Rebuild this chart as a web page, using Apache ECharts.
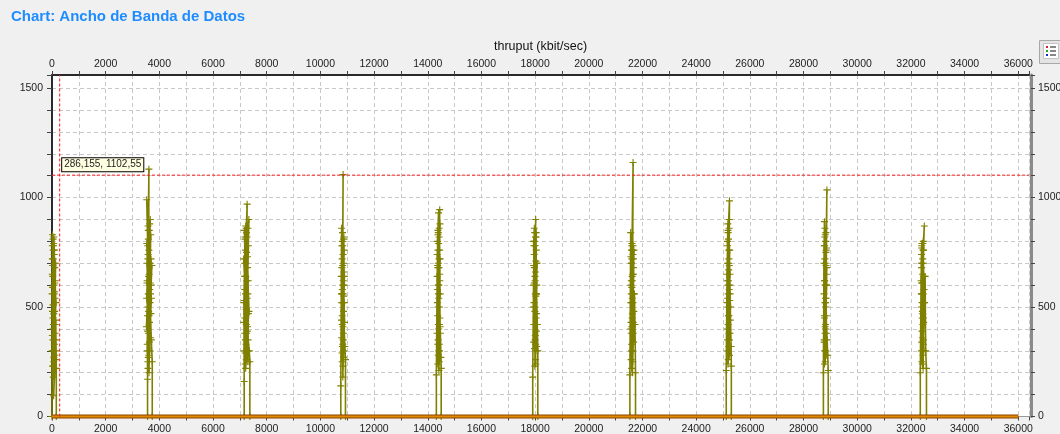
<!DOCTYPE html>
<html><head><meta charset="utf-8">
<script src="https://cdn.jsdelivr.net/npm/echarts@6/dist/echarts.min.js"></script>
<style>html,body{margin:0;padding:0;background:#f0f0f0}#c{width:1060px;height:434px}</style>
</head><body><div id="c"></div>
<script>
const titleText = 'Chart: Ancho de Banda de Datos';
const xAxisName = 'thruput (kbit/sec)';
const xLabelStep = 2000;
const yLabelStep = 500;
const cursorX = 286.155;
const cursorY = 1102.55;
const cursorLabel = '286,155, 1102,55';

const burst1 = [[0,0],[5,560],[20,830],[12,780],[40,810],[28,640],[60,790],[18,480],[48,720],[75,600],[35,350],[90,760],[55,420],[25,230],[100,680],[70,820],[42,300],[110,540],[65,250],[85,700],[30,400],[120,620],[50,180],[95,480],[15,720],[130,350],[80,560],[10,300],[45,760],[115,420],[22,590],[70,270],[135,700],[38,510],[88,330],[8,650],[58,780],[125,260],[33,450],[102,610],[14,370],[78,740],[145,520],[52,230],[92,570],[26,690],[118,380],[66,470],[140,300],[60,95],[105,280],[140,440],[160,220],[160,0]];
const burst2 = [[3560,0],[3560,170],[3545,620],[3590,850],[3530,990],[3575,720],[3610,1130],[3600,480],[3550,300],[3640,880],[3585,560],[3520,410],[3660,900],[3620,650],[3570,250],[3680,830],[3595,380],[3540,700],[3650,520],[3615,200],[3565,780],[3700,600],[3630,340],[3580,870],[3555,460],[3690,720],[3605,280],[3670,560],[3590,810],[3635,430],[3720,690],[3575,220],[3660,610],[3525,540],[3610,760],[3548,330],[3685,470],[3598,640],[3532,790],[3645,300],[3572,500],[3625,850],[3560,390],[3705,540],[3588,270],[3655,700],[3538,610],[3618,460],[3675,360],[3582,740],[3640,580],[3700,350],[3735,250],[3735,0]];
const burst3 = [[7160,0],[7160,160],[7150,520],[7190,820],[7220,870],[7175,640],[7270,970],[7240,420],[7200,290],[7300,860],[7210,560],[7180,380],[7250,750],[7335,900],[7230,330],[7280,680],[7195,810],[7260,470],[7215,220],[7310,620],[7245,840],[7185,450],[7290,300],[7225,700],[7270,540],[7320,780],[7205,350],[7255,620],[7140,720],[7232,490],[7168,850],[7285,410],[7212,760],[7158,300],[7295,560],[7238,260],[7178,580],[7265,820],[7145,430],[7222,640],[7305,350],[7188,700],[7248,380],[7170,530],[7282,730],[7198,240],[7315,470],[7300,250],[7235,860],[7340,480],[7275,390],[7350,300],[7372,250],[7372,0]];
const burst4 = [[10760,0],[10760,140],[10790,860],[10800,560],[10830,780],[10846,1105],[10820,320],[10780,640],[10860,810],[10810,460],[10840,230],[10870,700],[10795,520],[10855,380],[10825,840],[10880,600],[10805,290],[10845,740],[10815,420],[10890,520],[10835,180],[10865,660],[10800,780],[10850,350],[10875,820],[10785,440],[10838,600],[10808,720],[10868,300],[10792,360],[10828,520],[10882,760],[10812,250],[10852,620],[10798,680],[10842,410],[10895,640],[10818,800],[10862,480],[10788,560],[10832,330],[10872,550],[10820,580],[10860,270],[10830,690],[10900,430],[10845,560],[10910,320],[10934,260],[10934,0]];
const burst5 = [[14320,0],[14320,190],[14350,640],[14380,850],[14400,930],[14370,460],[14420,720],[14390,280],[14445,945],[14360,800],[14410,540],[14430,330],[14375,680],[14455,880],[14395,420],[14415,210],[14440,760],[14365,580],[14425,860],[14385,350],[14450,620],[14405,790],[14370,240],[14435,500],[14395,700],[14345,380],[14412,600],[14382,760],[14438,420],[14358,520],[14428,300],[14392,840],[14462,560],[14372,330],[14418,680],[14352,740],[14448,450],[14388,600],[14432,250],[14366,690],[14408,400],[14458,720],[14378,500],[14422,820],[14460,410],[14380,830],[14420,300],[14445,650],[14400,560],[14470,380],[14490,270],[14500,220],[14500,0]];
const burst6 = [[17910,0],[17910,180],[17940,600],[17970,860],[17950,420],[18000,780],[18020,900],[17980,310],[18010,660],[17960,520],[18040,840],[17990,230],[18030,710],[17975,800],[18050,470],[18005,370],[17945,690],[18025,550],[17985,840],[18060,600],[18015,260],[17965,740],[18045,390],[17935,500],[17995,640],[18028,300],[17955,780],[18038,560],[17978,420],[18012,820],[17948,340],[18058,700],[17988,500],[18022,240],[17968,610],[18042,760],[17998,350],[17942,800],[18032,450],[17972,680],[18052,320],[18008,560],[18000,620],[18035,820],[17990,480],[18070,700],[18020,330],[18055,560],[18080,420],[18100,300],[18100,0]];
const burst7 = [[21530,0],[21530,190],[21560,840],[21580,620],[21600,780],[21570,430],[21650,1160],[21620,300],[21590,700],[21640,520],[21610,790],[21575,260],[21660,680],[21600,410],[21630,760],[21585,560],[21670,340],[21615,640],[21595,220],[21645,740],[21625,470],[21580,700],[21655,380],[21565,520],[21622,620],[21592,330],[21648,780],[21572,600],[21612,450],[21668,560],[21588,760],[21638,250],[21558,400],[21605,720],[21678,480],[21598,300],[21632,650],[21568,730],[21652,430],[21618,540],[21582,380],[21662,720],[21605,590],[21680,760],[21635,300],[21610,520],[21665,650],[21625,200],[21700,560],[21720,420],[21740,200],[21740,0]];
const burst8 = [[25120,0],[25120,210],[25150,650],[25180,880],[25200,460],[25170,780],[25240,985],[25210,320],[25190,600],[25230,860],[25160,400],[25220,720],[25250,530],[25185,240],[25205,810],[25260,650],[25175,350],[25235,900],[25195,560],[25270,440],[25215,760],[25165,620],[25245,280],[25155,520],[25212,670],[25178,300],[25228,580],[25188,850],[25258,380],[25168,700],[25222,460],[25198,260],[25248,760],[25172,540],[25238,350],[25208,620],[25162,800],[25265,560],[25192,420],[25232,690],[25182,500],[25205,700],[25280,500],[25225,380],[25190,840],[25255,600],[25300,320],[25310,230],[25310,0]];
const burst9 = [[28740,0],[28740,200],[28760,700],[28780,890],[28800,520],[28770,340],[28820,800],[28790,620],[28810,250],[28840,760],[28775,460],[28830,840],[28800,380],[28850,650],[28785,780],[28815,540],[28870,1035],[28825,300],[28795,720],[28845,460],[28810,830],[28765,560],[28818,420],[28788,300],[28838,600],[28772,780],[28828,500],[28798,860],[28858,380],[28778,620],[28812,700],[28848,280],[28782,450],[28832,750],[28802,600],[28768,350],[28842,540],[28792,820],[28822,400],[28862,680],[28860,600],[28780,240],[28835,690],[28805,410],[28855,770],[28820,520],[28880,350],[28900,280],[28920,210],[28920,0]];
const burst10 = [[32350,0],[32350,200],[32380,620],[32400,780],[32420,450],[32390,300],[32440,720],[32410,560],[32460,800],[32430,240],[32400,680],[32480,520],[32415,390],[32450,760],[32500,870],[32425,610],[32470,330],[32440,470],[32395,740],[32490,580],[32455,220],[32385,500],[32435,650],[32405,340],[32465,700],[32392,560],[32445,420],[32412,790],[32478,300],[32398,610],[32428,480],[32472,760],[32408,250],[32458,560],[32388,700],[32438,360],[32482,640],[32418,520],[32448,280],[32402,770],[32468,450],[32420,700],[32475,430],[32445,790],[32510,520],[32465,350],[32530,640],[32550,300],[32580,220],[32580,0]];
const baseline = [[0,0],[36000,0]];
const cursorVertical = [[cursorX,0],[cursorX,1560]];
const cursorHorizontal = [[0,cursorY],[36400,cursorY]];

const bursts = [burst1,burst2,burst3,burst4,burst5,burst6,burst7,burst8,burst9,burst10];
const seriesData = [].concat(...bursts);

const FONT = '"Liberation Sans", Arial, sans-serif';
const plusSymbol = 'path://M0,4.2H10V5.8H0ZM4.2,0H5.8V10H4.2Z';
const labelStyle = {color:'#222', fontSize:10.5, fontFamily:FONT};
const xFmt = v => (v % xLabelStep === 0 && v <= 36000) ? String(v) : '';
const yFmt = v => (v % yLabelStep === 0) ? String(v) : '';

const chart = echarts.init(document.getElementById('c'), null, {renderer:'canvas'});
chart.setOption({
  animation:false,
  backgroundColor:'#f0f0f0',
  title:{text:titleText, left:11, top:9, padding:0,
    textStyle:{color:'#1e8cff', fontSize:15, fontWeight:'bold', fontFamily:FONT}},
  grid:{left:52, right:31, top:75, bottom:17.5, show:true, backgroundColor:'#ffffff', borderWidth:0,
    containLabel:false, outerBoundsMode:'none'},
  xAxis:[
    {type:'value', position:'bottom', min:0, max:36400, interval:1000,
     axisLine:{show:true, onZero:false, lineStyle:{color:'#9a9a9a', width:1}},
     axisTick:{show:true, length:4, lineStyle:{color:'#444'}},
     axisLabel:Object.assign({formatter:xFmt, margin:7}, labelStyle),
     splitLine:{show:true, lineStyle:{color:'#c8c8c8', type:[4,3], width:1}}},
    {type:'value', position:'top', min:0, max:36400, interval:1000,
     name:xAxisName, nameLocation:'middle', nameGap:22,
     nameTextStyle:{color:'#111', fontSize:12.5, fontFamily:FONT},
     axisLine:{show:true, onZero:false, lineStyle:{color:'#2a2a2a', width:2}},
     axisTick:{show:true, length:4, lineStyle:{color:'#444'}},
     axisLabel:Object.assign({formatter:xFmt, margin:5}, labelStyle),
     splitLine:{show:false}}
  ],
  yAxis:[
    {type:'value', position:'left', min:0, max:1560, interval:100,
     axisLine:{show:true, onZero:false, lineStyle:{color:'#2a2a2a', width:2}},
     axisTick:{show:true, length:5, lineStyle:{color:'#444'}},
     axisLabel:Object.assign({formatter:yFmt, margin:9}, labelStyle),
     splitLine:{show:true, lineStyle:{color:'#c8c8c8', type:[4,3], width:1}}},
    {type:'value', position:'right', min:0, max:1560, interval:100, offset:2,
     axisLine:{show:true, onZero:false, lineStyle:{color:'#8a8a8a', width:3}},
     axisTick:{show:true, length:4, lineStyle:{color:'#444'}},
     axisLabel:Object.assign({formatter:yFmt, margin:7}, labelStyle),
     splitLine:{show:false}}
  ],
  series:[
    {type:'line', name:'thruput', xAxisIndex:0, yAxisIndex:0, data:seriesData,
     symbol:plusSymbol, symbolSize:7, showAllSymbol:true,
     lineStyle:{color:'#808000', width:1.6},
     itemStyle:{color:'#808000', borderWidth:0}, z:3},
    {type:'line', name:'cursorV', xAxisIndex:0, yAxisIndex:0, data:cursorVertical,
     symbol:'none', lineStyle:{color:'#ff1a1a', width:1, type:[3,2]}, z:6},
    {type:'line', name:'cursorH', xAxisIndex:0, yAxisIndex:0, data:cursorHorizontal,
     symbol:'none', lineStyle:{color:'#ff1a1a', width:1, type:[3,2]}, z:6},
    {type:'line', name:'base', xAxisIndex:0, yAxisIndex:0, data:baseline, clip:false,
     symbol:'none', lineStyle:{color:'#8e4200', width:4}, z:4},
    {type:'line', name:'base2', xAxisIndex:0, yAxisIndex:0, data:baseline, clip:false,
     symbol:'none', lineStyle:{color:'#dd8a00', width:2}, z:5,
     markPoint:{silent:true, symbol:'rect', symbolSize:1, itemStyle:{color:'rgba(0,0,0,0)'},
       data:[{coord:[cursorX,cursorY]}],
       label:{show:true, formatter:cursorLabel, position:'right', distance:2, offset:[0,-10.5],
         backgroundColor:'#ffffe1', borderColor:'#000', borderWidth:1, padding:[2,2,1,2],
         color:'#222', fontSize:10, fontFamily:FONT}}}
  ],
  graphic:[
    {type:'rect', shape:{x:1039.5, y:40.5, width:22, height:23}, style:{fill:'#e4e4e4', stroke:'#a8a8a8', lineWidth:1}},
    {type:'rect', shape:{x:1043.5, y:43.5, width:15, height:15}, style:{fill:'#ffffff', stroke:'#c4c4c4', lineWidth:1}},
    {type:'rect', shape:{x:1046, y:46, width:2, height:2}, style:{fill:'#e02020'}},
    {type:'rect', shape:{x:1046, y:50, width:2, height:2}, style:{fill:'#20b020'}},
    {type:'rect', shape:{x:1046, y:54, width:2, height:2}, style:{fill:'#2020e0'}},
    {type:'rect', shape:{x:1050, y:46.5, width:6, height:1}, style:{fill:'#111'}},
    {type:'rect', shape:{x:1050, y:50.5, width:6, height:1}, style:{fill:'#111'}},
    {type:'rect', shape:{x:1050, y:54.5, width:6, height:1}, style:{fill:'#111'}}
  ]
});
</script></body></html>
